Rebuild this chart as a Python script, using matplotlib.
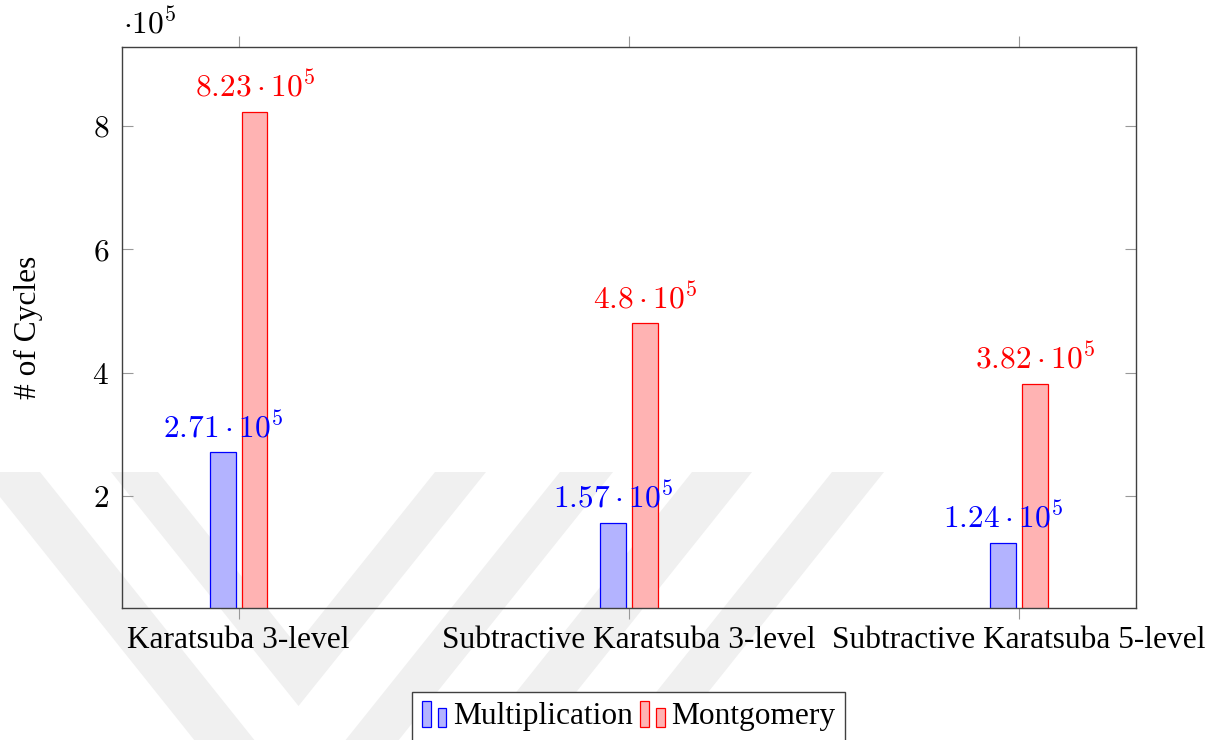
import numpy as np
import matplotlib
matplotlib.use("Agg")
import matplotlib.pyplot as plt
from matplotlib.patches import Rectangle, Polygon
from matplotlib.legend_handler import HandlerBase
from matplotlib.font_manager import FontProperties

# Cycle counts, in units of 10^5
categories = ["Karatsuba 3-level", "Subtractive Karatsuba 3-level", "Subtractive Karatsuba 5-level"]
multiplication = [2.71, 1.57, 1.24]
montgomery = [8.23, 4.8, 3.82]
series_names = ["Multiplication", "Montgomery"]
exponent = 5
y_ticks = [2, 4, 6, 8]

plt.rcParams["mathtext.fontset"] = "cm"
plt.rcParams["font.family"] = ["Liberation Serif", "DejaVu Serif"]

FS = 22.6
SERIF = "Liberation Serif"
W, H = 1227, 740
fig = plt.figure(figsize=(W / 100, H / 100), dpi=100)


def px(x, y):
    return (x / W, 1 - y / H)


# faint background chevrons
wm_color = "#f0f0f0"
shapes = [
    [(111, 472), (158, 472), (296.5, 645), (435, 472), (486, 472), (298.5, 706)],
    [(-20, 472), (40, 472), (300, 797), (560, 472), (613, 472), (296.5, 868)],
    [(692, 472), (752, 472), (752 - 230, 760), (692 - 230, 760)],
    [(832, 472), (884, 472), (884 - 230, 760), (832 - 230, 760)],
]
for s in shapes:
    fig.add_artist(Polygon([px(*p) for p in s], closed=True, transform=fig.transFigure,
                           facecolor=wm_color, edgecolor="none", zorder=-5))

ax = fig.add_axes([121.7 / W, 1 - 608 / H, (1136 - 121.7) / W, (608 - 47) / H])
ax.set_facecolor("none")

x = np.arange(len(categories))
off = 0.0407
bw = 0.066
styles = [dict(facecolor="#b3b3ff", edgecolor="#0000ff"),
          dict(facecolor="#ffb3b3", edgecolor="#ff0000")]
text_colors = ["#0000ff", "#ff0000"]

bars_m = ax.bar(x - off, multiplication, bw, linewidth=0.9, zorder=2, **styles[0])
bars_g = ax.bar(x + off, montgomery, bw, linewidth=0.9, zorder=2, **styles[1])

for xs, vals, col, z in [(x - off, multiplication, text_colors[0], 4),
                         (x + off, montgomery, text_colors[1], 3)]:
    for xi, v in zip(xs, vals):
        ax.annotate(rf"${v:g}\cdot10^{{{exponent}}}$", (xi, v), xytext=(0, 6),
                    textcoords="offset points", ha="center", va="bottom",
                    color=col, fontsize=FS, zorder=z, annotation_clip=False)

ax.set_xlim(-0.3, 2.3)
ax.set_ylim(0.19, 9.28)

ax.set_xticks(x)
ax.set_xticklabels(categories, fontsize=FS, family=SERIF)
ax.set_yticks(y_ticks)
ax.set_yticklabels([rf"${t}$" for t in y_ticks], fontsize=FS)

ax.tick_params(axis="x", direction="out", length=8, width=0.8, color="#999999",
               top=True, bottom=True, pad=5)
ax.tick_params(axis="y", direction="in", length=8, width=0.8, color="#999999",
               left=True, right=True, pad=9)

for sp in ax.spines.values():
    sp.set_color("#404040")
    sp.set_linewidth(1.0)

ax.set_ylabel("# of Cycles", fontsize=FS, family=SERIF)
ax.yaxis.set_label_coords(-0.078, 0.5)

ax.text(0.001, 1.012, rf"$\cdot10^{{{exponent}}}$", transform=ax.transAxes,
        ha="left", va="bottom", fontsize=FS)


class TwoBarHandler(HandlerBase):
    def create_artists(self, legend, orig_handle, xdescent, ydescent, width, height,
                       fontsize, trans):
        fc = orig_handle.get_facecolor()
        ec = orig_handle.get_edgecolor()
        bwid = width * 0.36
        r1 = Rectangle((-xdescent, -ydescent - 0.05 * height), bwid, height * 1.05,
                       facecolor=fc, edgecolor=ec, linewidth=0.9, transform=trans)
        r2 = Rectangle((-xdescent + width * 0.66, -ydescent - 0.05 * height), bwid * 0.9,
                       height * 0.78, facecolor=fc, edgecolor=ec, linewidth=0.9,
                       transform=trans)
        return [r1, r2]


handles = [bars_m.patches[0], bars_g.patches[0]]
leg = fig.legend(handles, series_names, loc="upper center",
                 bbox_to_anchor=px(628.5, 692), ncol=2,
                 prop=FontProperties(family=SERIF, size=FS),
                 handler_map={p: TwoBarHandler() for p in handles},
                 handlelength=0.8, handleheight=0.8, handletextpad=0.2,
                 columnspacing=0.22, borderpad=0.3, borderaxespad=0,
                 frameon=True, fancybox=False, edgecolor="#404040")
leg.get_frame().set_linewidth(1.0)
leg.get_frame().set_alpha(1)

fig.savefig("out.png", dpi=100)
